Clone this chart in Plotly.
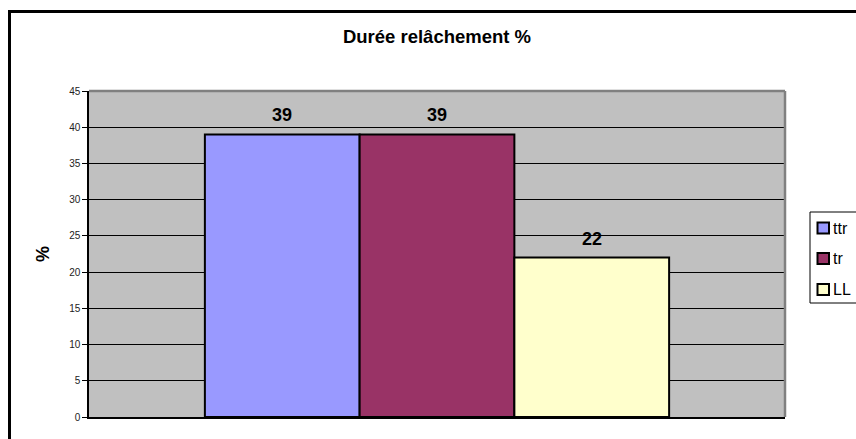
import plotly.graph_objects as go

# Release duration shares (%)
categories = ["Durée"]
series_names = ["ttr", "tr", "LL"]
series_values = [39, 39, 22]
series_colors = ["#9999FF", "#993366", "#FFFFCC"]
y_ticks = [0, 5, 10, 15, 20, 25, 30, 35, 40, 45]

W, H = 856, 439
L, R, T, B = 89, 71, 91, 22
pw, ph = W - L - R, H - T - B
BARGAP = 0.333


def px_x(p):
    return (p - L) / pw


def px_y(p):
    return (H - B - p) / ph


fig = go.Figure()
for name, val, col in zip(series_names, series_values, series_colors):
    fig.add_trace(go.Bar(
        x=categories, y=[val], name=name,
        marker=dict(color=col, line=dict(color="black", width=2)),
        showlegend=False,
    ))

# value labels above each bar
bar_px = pw * (1 - BARGAP) / len(series_values)
annotations = []
n = len(series_values)
for i, val in enumerate(series_values):
    annotations.append(dict(
        x=categories[0], y=val, xref="x", yref="y",
        xshift=(i - (n - 1) / 2) * bar_px, yshift=7,
        text=f"<b>{val}</b>", showarrow=False, yanchor="bottom",
        font=dict(family="Arial", size=18, color="black"),
    ))

shapes = [
    # outer chart frame
    dict(type="rect", xref="paper", yref="paper",
         x0=px_x(9.5), x1=px_x(880), y0=px_y(460), y1=px_y(11.5),
         line=dict(color="black", width=3), layer="below"),
    # plot area top and right edges
    dict(type="line", xref="paper", yref="paper", x0=0, x1=1, y0=1, y1=1,
         line=dict(color="#808080", width=2.5)),
    dict(type="line", xref="paper", yref="paper", x0=1, x1=1, y0=0, y1=1,
         line=dict(color="#808080", width=2.5)),
    # legend box
    dict(type="rect", xref="paper", yref="paper",
         x0=px_x(810), x1=px_x(880), y0=px_y(303), y1=px_y(212),
         line=dict(color="black", width=1), fillcolor="white"),
]

# legend entries
legend_y = [228, 258.5, 289.5]
for name, col, ly in zip(series_names, series_colors, legend_y):
    shapes.append(dict(type="rect", xref="paper", yref="paper",
                       x0=px_x(817.5), x1=px_x(829), y0=px_y(ly + 5.5), y1=px_y(ly - 5.5),
                       line=dict(color="black", width=2), fillcolor=col))
    annotations.append(dict(x=px_x(831), y=px_y(ly), xref="paper", yref="paper",
                            text=name, showarrow=False, xanchor="left", yanchor="middle",
                            font=dict(family="Arial", size=16, color="black")))

fig.update_layout(
    width=W, height=H,
    margin=dict(l=L, r=R, t=T, b=B, autoexpand=False),
    paper_bgcolor="white",
    plot_bgcolor="#C0C0C0",
    barmode="group",
    bargap=BARGAP,
    bargroupgap=0,
    font=dict(family="Arial", color="black"),
    title=dict(text="<b>Durée relâchement %</b>", x=0.5, xanchor="center",
               xref="paper", y=1 - 37 / H, yanchor="middle",
               font=dict(family="Arial", size=18.5, color="black")),
    showlegend=False,
    shapes=shapes,
    annotations=annotations,
    xaxis=dict(showticklabels=False, ticks="", showgrid=False, zeroline=False,
               showline=True, linecolor="black", linewidth=1.5),
    yaxis=dict(range=[0, 45], tickvals=y_ticks, ticks="outside", ticklen=5,
               tickcolor="black", tickfont=dict(family="Arial", size=10, color="#222"),
               showgrid=True, gridcolor="black", gridwidth=1, zeroline=False,
               showline=True, linecolor="black", linewidth=1.5,
               title=dict(text="<b>%</b>", font=dict(family="Arial", size=18, color="black"),
                          standoff=15)),
)

fig.write_html("out.html")
